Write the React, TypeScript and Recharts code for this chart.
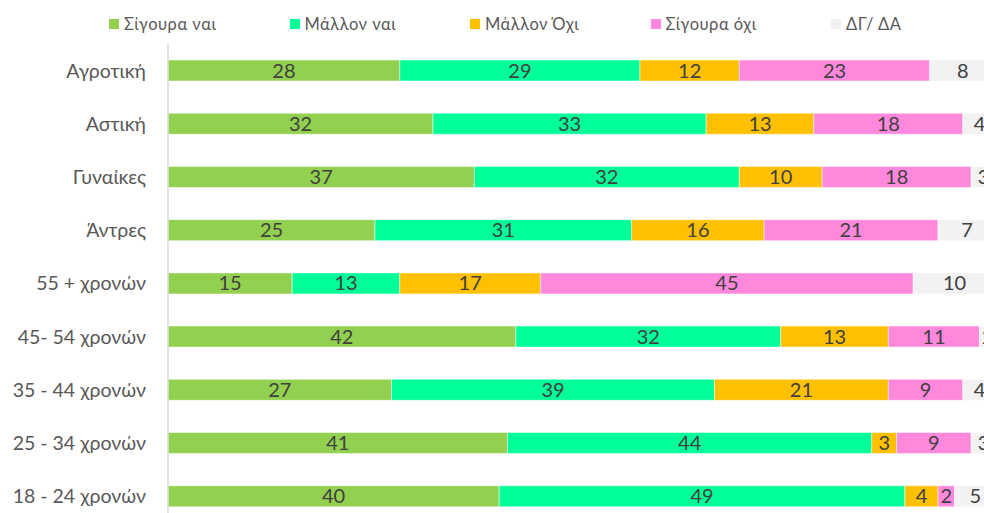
import React from 'react';
import { BarChart, Bar, XAxis, YAxis, Legend, LabelList } from 'recharts';

const categories = [
  'Αγροτική',
  'Αστική',
  'Γυναίκες',
  'Άντρες',
  '55 + χρονών',
  '45- 54 χρονών',
  '35 - 44 χρονών',
  '25 - 34 χρονών',
  '18 - 24 χρονών',
];
const sigouraNai = [28, 32, 37, 25, 15, 42, 27, 41, 40];
const mallonNai = [29, 33, 32, 31, 13, 32, 39, 44, 49];
const mallonOxi = [12, 13, 10, 16, 17, 13, 21, 3, 4];
const sigouraOxi = [23, 18, 18, 21, 45, 11, 9, 9, 2];
const dgDa = [8, 4, 3, 7, 10, 2, 4, 3, 5];

const seriesNames = ['Σίγουρα ναι', 'Μάλλον ναι', 'Μάλλον Όχι', 'Σίγουρα όχι', 'ΔΓ/ ΔΑ'];
const seriesKeys = ['s1', 's2', 's3', 's4', 's5'];
const colors = ['#92D050', '#00FF99', '#FFC000', '#FF88DD', '#F2F2F2'];

const data = categories.map((name, i) => ({
  name,
  s1: sigouraNai[i],
  s2: mallonNai[i],
  s3: mallonOxi[i],
  s4: sigouraOxi[i],
  s5: dgDa[i],
}));

const FONT = 'Lato, "Open Sans", sans-serif';

const LegendContent = () => (
  <div style={{ height: 30, position: 'relative', fontFamily: FONT }}>
    {seriesNames.map((n, i) => (
      <div
        key={n}
        style={{
          position: 'absolute',
          left: 109 + i * 180.5,
          top: -1,
          height: 22,
          display: 'flex',
          alignItems: 'center',
          whiteSpace: 'nowrap',
        }}
      >
        <span style={{ display: 'inline-block', width: 10, height: 10, background: colors[i], marginRight: 5 }} />
        <span style={{ fontSize: 16.5, color: '#595959', letterSpacing: 0.5 }}>{n}</span>
      </div>
    ))}
  </div>
);

export default function App() {
  return (
    <div style={{ position: 'absolute', left: 0, top: 0, width: 984, height: 513, overflow: 'hidden', background: '#fff' }}>
      <BarChart
        width={1000}
        height={525}
        data={data}
        layout="vertical"
        margin={{ top: 14, right: 4, bottom: 2, left: 0 }}
        barSize={21}
      >
        <XAxis type="number" domain={[0, 100]} hide />
        <YAxis
          type="category"
          dataKey="name"
          width={168}
          tickSize={0}
          tickMargin={22}
          axisLine={{ stroke: '#D9D9D9', strokeWidth: 1.5 }}
          tick={{ fill: '#595959', fontSize: 19.5, fontFamily: FONT }}
        />
        <Legend verticalAlign="top" align="left" content={<LegendContent />} wrapperStyle={{ left: 0, width: 1000 }} />
        {seriesKeys.map((k, i) => (
          <Bar
            key={k}
            dataKey={k}
            name={seriesNames[i]}
            stackId="a"
            fill={colors[i]}
            stroke="#ffffff"
            strokeOpacity={0.5}
            strokeWidth={1}
            isAnimationActive={false}
          >
            <LabelList
              dataKey={k}
              position="center"
              fill="#404040"
              fontSize={20}
              fontFamily={FONT}
            />
          </Bar>
        ))}
      </BarChart>
    </div>
  );
}
